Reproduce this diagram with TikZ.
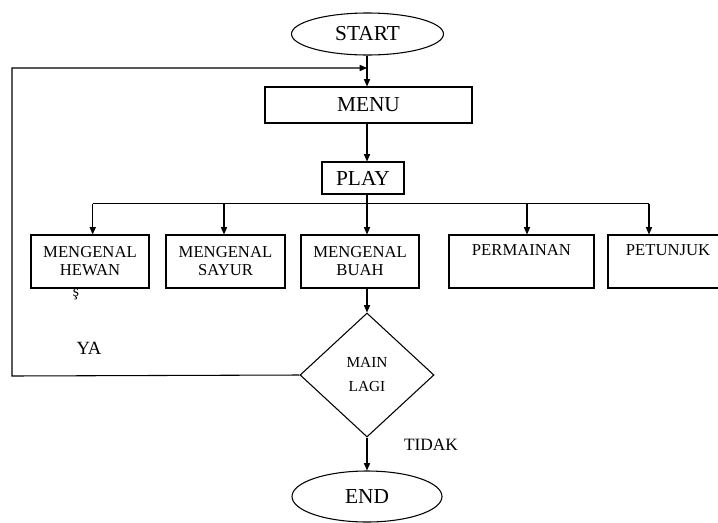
\documentclass[tikz,border=0pt]{standalone}
\usepackage{fontspec}
\setmainfont{Liberation Serif}
\usetikzlibrary{shapes.geometric,arrows.meta}
\begin{document}
\begin{tikzpicture}[x=0.75pt,y=-0.75pt,
  line width=0.8pt,
  arr/.style={-{Triangle[length=5.5pt,width=4.6pt]}},
  term/.style={draw,ellipse,inner sep=0pt,font=\fontsize{16}{18}\selectfont},
  mainbox/.style={draw,rectangle,inner sep=0pt,font=\fontsize{16}{18}\selectfont},
  subbox/.style={draw,rectangle,inner sep=0pt,minimum height=39.75pt,align=center,
    font=\fontsize{12.5}{13.5}\selectfont},
  decision/.style={draw,diamond,inner sep=0pt,minimum width=100.5pt,minimum height=93pt,
    align=center,font=\fontsize{11.5}{18}\selectfont},
  lbl/.style={inner sep=0pt}
]
\useasboundingbox (0,0) rectangle (718,522);

\node[term,minimum width=114pt,minimum height=31.5pt] (start) at (367.5,34) {START};
\node[mainbox,minimum width=155.25pt,minimum height=27pt] (menu) at (368.5,105) {MENU};
\node[mainbox,minimum width=61.5pt,minimum height=24pt] (play) at (363,178) {PLAY};

\node[subbox,minimum width=88.5pt] (hewan) at (90,261.5) {MENGENAL\\HEWAN};
\node[subbox,minimum width=89.25pt] (sayur) at (225.5,261.5) {MENGENAL\\SAYUR};
\node[subbox,minimum width=88.5pt] (buah) at (360,261.5) {MENGENAL\\BUAH};
\node[subbox,minimum width=108.75pt] (perm) at (521.5,261.5) {PERMAINAN\\\strut};
\node[subbox,minimum width=90pt] (petu) at (668,261.5) {PETUNJUK\\\strut};

\node[decision] (dia) at (367,375) {MAIN\\LAGI};
\node[term,minimum width=112.5pt,minimum height=38.25pt] (end) at (367,496.5) {END};

\coordinate (j) at (367,68);
\coordinate (bus) at (367,203.5);
\coordinate (b1) at (92.7,203.5);
\coordinate (b2) at (224,203.5);
\coordinate (b4) at (527,203.5);
\coordinate (b5) at (649,203.5);
\coordinate (c1) at (12,376);
\coordinate (c2) at (12,68);

\draw[arr] (start.south -| j) -- (menu.north -| j);
\draw[arr] (menu.south -| j) -- (play.north -| j);
\draw (play.south -| j) -- (bus);
\draw (b1) -- (b5);
\draw[arr] (bus) -- (buah.north -| bus);
\draw[arr] (b1) -- (hewan.north -| b1);
\draw[arr] (b2) -- (sayur.north -| b2);
\draw[arr] (b4) -- (perm.north -| b4);
\draw[arr] (b5) -- (petu.north -| b5);
\draw[arr] (buah.south -| dia.north) -- (dia.north);
\draw[arr] (dia.south) -- (end.north);
\draw[arr] (dia.west) -- (c1) -- (c2) -- (j);

\node[lbl,font=\fontsize{14}{16}\selectfont] (ya) at (89,348) {YA};
\node[lbl,font=\fontsize{13}{15}\selectfont] (tidak) at (431,445) {TIDAK};
\node[lbl,font=\fontsize{12}{14}\selectfont] (s) at (76,294) {ş};
\end{tikzpicture}
\end{document}
